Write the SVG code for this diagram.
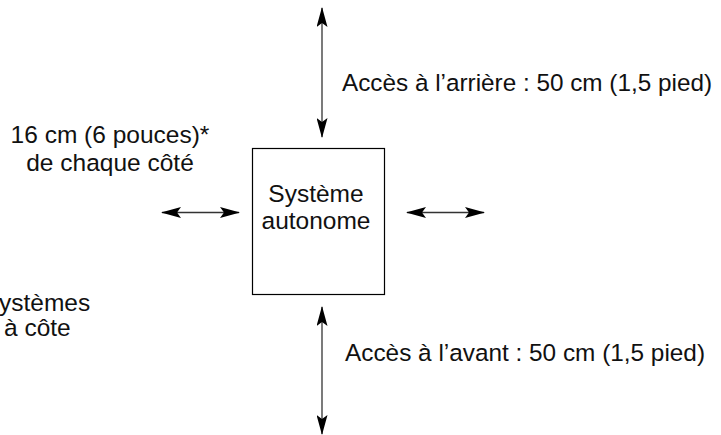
<svg xmlns="http://www.w3.org/2000/svg" width="721" height="435" viewBox="0 0 721 435">
  <style>
    .lbl { font-family: "Liberation Sans", Arial, sans-serif; font-size: 24.5px; fill: #111; }
    .mid { text-anchor: middle; }
    .box { fill: #fff; stroke: #000; stroke-width: 1.2; }
    .dim { stroke: #333; stroke-width: 1.3; fill: none; marker-start: url(#head); marker-end: url(#head); }
  </style>
  <defs>
    <marker id="head" viewBox="0 0 20 11" refX="19" refY="5.5" markerWidth="20" markerHeight="11" markerUnits="userSpaceOnUse" orient="auto-start-reverse">
      <path d="M0,0 L20,5.5 L0,11 L4,5.5 Z" fill="#000"/>
    </marker>
  </defs>

  <rect width="721" height="435" fill="#fff"/>

  <!-- clearance arrows -->
  <g id="connectors">
    <line class="dim" x1="322" y1="8" x2="322" y2="137"/>
    <line class="dim" x1="322" y1="307" x2="322" y2="434"/>
    <line class="dim" x1="162" y1="212.5" x2="239" y2="212.5"/>
    <line class="dim" x1="407" y1="212.5" x2="484" y2="212.5"/>
  </g>

  <!-- the unit itself -->
  <g id="systeme">
    <rect class="box" x="252.5" y="148.5" width="132" height="146"/>
    <text class="lbl mid" x="316" y="202">Système</text>
    <text class="lbl mid" x="316" y="229">autonome</text>
  </g>

  <g id="acces-arriere">
    <text class="lbl" x="342" y="91" textLength="370" lengthAdjust="spacingAndGlyphs">Accès à l’arrière : 50 cm (1,5 pied)</text>
  </g>

  <g id="acces-avant">
    <text class="lbl" x="345" y="361" textLength="360" lengthAdjust="spacingAndGlyphs">Accès à l’avant : 50 cm (1,5 pied)</text>
  </g>

  <g id="cotes">
    <text class="lbl mid" x="110" y="143">16 cm (6 pouces)*</text>
    <text class="lbl mid" x="110" y="171">de chaque côté</text>
  </g>

  <g id="cote-a-cote">
    <text class="lbl" x="-1" y="311">ystèmes</text>
    <text class="lbl" x="4" y="336">à côte</text>
  </g>
</svg>
